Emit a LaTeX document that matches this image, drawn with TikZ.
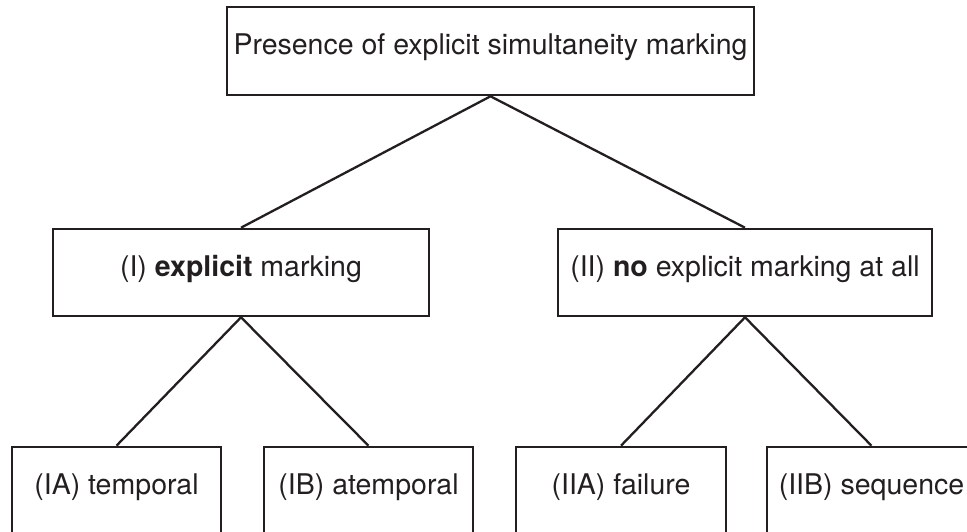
\documentclass[tikz,border=0pt]{standalone}
\usepackage{fontspec}
\setmainfont{TeX Gyre Heros}
\definecolor{ink}{HTML}{231F20}
\begin{document}
\begin{tikzpicture}[x=1pt,y=-1pt,
  box/.style={draw=ink, line width=2.6pt, rectangle, inner sep=0pt,
    text=ink, font=\fontsize{28.5}{34}\selectfont,
    text height=0.718em, text depth=0pt, anchor=center},
  link/.style={draw=ink, line width=2.3pt}]
  \useasboundingbox (0,0) rectangle (967,532);
  \clip (0,0) rectangle (967,532);

  % root
  \node[box, minimum width=527pt, minimum height=88pt] (root) at (490.5,51)
    {Presence of explicit simultaneity marking};

  % second level
  \node[box, minimum width=376pt, minimum height=87pt] (expl) at (241,272.5)
    {(I) \textbf{explicit} marking};
  \node[box, minimum width=374pt, minimum height=87pt] (noexpl) at (745,272.5)
    {(II) \textbf{no} explicit marking at all};

  % third level
  \node[box, minimum width=209pt, minimum height=88pt] (ia) at (116.5,491)
    {(IA) temporal};
  \node[box, minimum width=209pt, minimum height=88pt] (ib) at (368.5,491)
    {(IB) atemporal};
  \node[box, minimum width=210pt, minimum height=88pt] (iia) at (621,491)
    {(IIA) failure};
  \node[box, minimum width=209pt, minimum height=88pt] (iib) at (871.5,491)
    {(IIB) sequence};

  % branches
  \draw[link] (expl.north) -- (root.south) -- (noexpl.north);
  \draw[link] (ia.north) -- (expl.south) -- (ib.north);
  \draw[link] (iia.north) -- (noexpl.south) -- (iib.north);
\end{tikzpicture}
\end{document}
